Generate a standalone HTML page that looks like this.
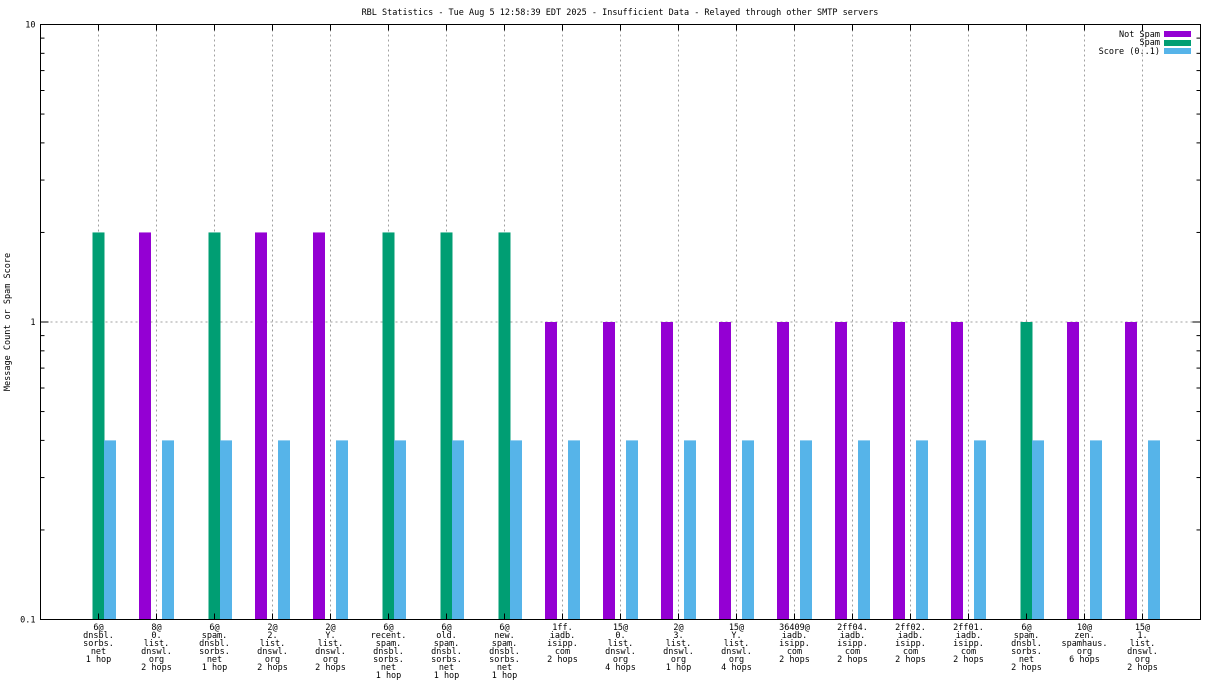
<!DOCTYPE html>
<html><head><meta charset="utf-8"><style>
body{margin:0;background:#fff}
svg{display:block;font-family:"DejaVu Sans Mono","Liberation Mono",monospace;font-size:8.5px}
</style></head><body>
<svg id="chart" width="1216" height="684" xmlns="http://www.w3.org/2000/svg">
<text x="620" y="15" text-anchor="middle">RBL Statistics - Tue Aug  5 12:58:39 EDT 2025 - Insufficient Data - Relayed through other SMTP servers</text>
<text transform="translate(10,322) rotate(-90)" text-anchor="middle">Message Count or Spam Score</text>
<g id="grid"></g><g id="bars"></g><g id="axes"></g>
<g>
<text x="1160" y="37" text-anchor="end">Not Spam</text><rect x="1164" y="31" width="27" height="6" fill="#9400d3"/>
<text x="1160" y="45" text-anchor="end">Spam</text><rect x="1164" y="40" width="27" height="6" fill="#009e73"/>
<text x="1160" y="54" text-anchor="end">Score (0..1)</text><rect x="1164" y="48" width="27" height="6" fill="#56b4e9"/>
</g>
</svg>
<script>
const categories=[
["6@","dnsbl.","sorbs.","net","1 hop"],["8@","0.","list.","dnswl.","org","2 hops"],["6@","spam.","dnsbl.","sorbs.","net","1 hop"],
["2@","2.","list.","dnswl.","org","2 hops"],["2@","Y.","list.","dnswl.","org","2 hops"],["6@","recent.","spam.","dnsbl.","sorbs.","net","1 hop"],
["6@","old.","spam.","dnsbl.","sorbs.","net","1 hop"],["6@","new.","spam.","dnsbl.","sorbs.","net","1 hop"],["1ff.","iadb.","isipp.","com","2 hops"],
["15@","0.","list.","dnswl.","org","4 hops"],["2@","3.","list.","dnswl.","org","1 hop"],["15@","Y.","list.","dnswl.","org","4 hops"],
["36409@","iadb.","isipp.","com","2 hops"],["2ff04.","iadb.","isipp.","com","2 hops"],["2ff02.","iadb.","isipp.","com","2 hops"],
["2ff01.","iadb.","isipp.","com","2 hops"],["6@","spam.","dnsbl.","sorbs.","net","2 hops"],["10@","zen.","spamhaus.","org","6 hops"],["15@","1.","list.","dnswl.","org","2 hops"]];
const notSpam=[0,2,0,2,2,0,0,0,1,1,1,1,1,1,1,1,0,1,1];
const spam=[2,0,2,0,0,2,2,2,0,0,0,0,0,0,0,0,1,0,0];
const score=[0.4,0.4,0.4,0.4,0.4,0.4,0.4,0.4,0.4,0.4,0.4,0.4,0.4,0.4,0.4,0.4,0.4,0.4,0.4];
const yTicks=[0.1,1,10];
const L=40.5,R=1200.5,T=24.5,B=619.5;
const x=i=>L+(R-L)*(i+1)/20;
const y=v=>B-(Math.log10(v)+1)/2*(B-T);
const NS="http://www.w3.org/2000/svg";
function mk(p,t,a){const e=document.createElementNS(NS,t);for(const k in a)e.setAttribute(k,a[k]);document.getElementById(p).appendChild(e);return e;}
// grid
categories.forEach((c,i)=>{const g=mk('grid','line',{x1:x(i),x2:x(i),y1:T,y2:B,stroke:'#a0a0a0','stroke-dasharray':'2,3'});

});
const hg=mk('grid','line',{x1:L,x2:R,y1:y(1),y2:y(1),stroke:'#a0a0a0','stroke-dasharray':'2,3'});


// bars
const series=[[notSpam,-17.5,'#9400d3','not-spam'],[spam,-6,'#009e73','spam'],[score,5.5,'#56b4e9','score']];
series.forEach(([arr,off,col,nm])=>arr.forEach((v,i)=>{if(!(v>0.1))return;
const r=mk('bars','rect',{x:x(i)+off,y:y(v),width:12,height:B-y(v),fill:col});

}));
// axes
const fr=mk('axes','rect',{x:L,y:T,width:R-L,height:B-T,fill:'none',stroke:'#000'});


yTicks.forEach(v=>{const t=mk('axes','text',{x:L-5,y:y(v)+3,'text-anchor':'end'});t.textContent=v;


mk('axes','line',{x1:L,x2:L+8,y1:y(v),y2:y(v),stroke:'#000'});mk('axes','line',{x1:R,x2:R-8,y1:y(v),y2:y(v),stroke:'#000'});});
[0.1,1].forEach(d=>{for(let m=2;m<10;m++){const yy=y(d*m);mk('axes','line',{x1:L,x2:L+4,y1:yy,y2:yy,stroke:'#000'});mk('axes','line',{x1:R,x2:R-4,y1:yy,y2:yy,stroke:'#000'});}});
categories.forEach((c,i)=>{mk('axes','line',{x1:x(i),x2:x(i),y1:B,y2:B-6,stroke:'#000'});mk('axes','line',{x1:x(i),x2:x(i),y1:T,y2:T+6,stroke:'#000'});
const t=mk('axes','text',{x:x(i),y:630,'text-anchor':'middle'});


c.forEach((s,k)=>{const sp=document.createElementNS(NS,'tspan');sp.setAttribute('x',x(i));sp.setAttribute('y',630+k*8);sp.textContent=s;t.appendChild(sp);});});
</script>
</body></html>
